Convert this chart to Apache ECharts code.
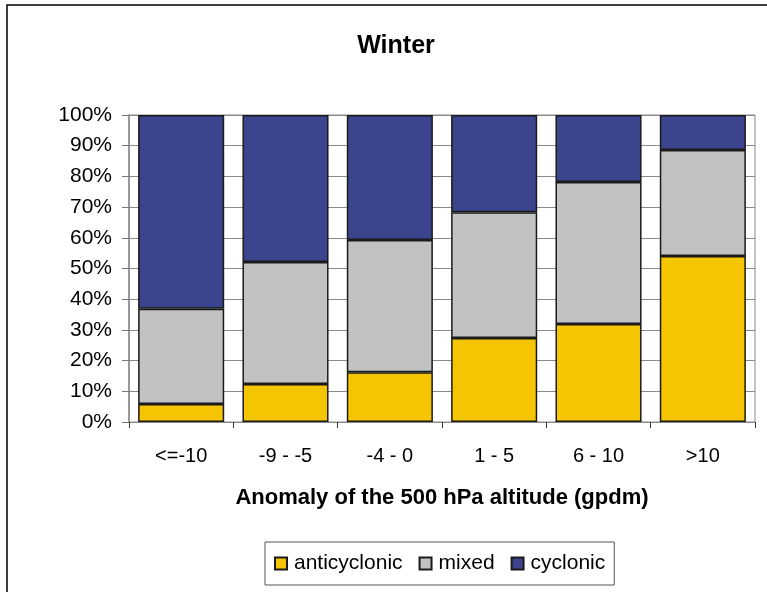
<!DOCTYPE html>
<html>
<head>
<meta charset="utf-8">
<script src="https://cdn.jsdelivr.net/npm/echarts@6/dist/echarts.min.js"></script>
<style>html,body{margin:0;padding:0;background:#fff}#c{width:767px;height:592px}</style>
</head>
<body>
<div id="c"></div>
<script>
const categories = ['<=-10', '-9 - -5', '-4 - 0', '1 - 5', '6 - 10', '>10'];
const anticyclonic = [5.9, 12.4, 16.2, 27.4, 31.9, 54.1];
const mixed = [31.0, 39.7, 43.1, 40.9, 46.3, 34.5];
const cyclonic = [63.1, 47.9, 40.7, 31.7, 21.8, 11.4];
const seriesNames = ['anticyclonic', 'mixed', 'cyclonic'];
const titleText = 'Winter';
const xAxisName = 'Anomaly of the 500 hPa altitude (gpdm)';

const FONT = '"Liberation Sans", Arial, sans-serif';
const colors = ['#F4C500', '#C1C2C4', '#3B448C'];
const dataList = [anticyclonic, mixed, cyclonic];

const chart = echarts.init(document.getElementById('c'), null, {renderer: 'canvas'});
chart.setOption({
  animation: false,
  backgroundColor: '#fff',
  textStyle: {fontFamily: FONT},
  title: {
    text: titleText, left: 391, top: 29, textAlign: 'center',
    textStyle: {fontFamily: FONT, fontSize: 25, fontWeight: 'bold', color: '#000'}
  },
  graphic: [{
    type: 'rect', shape: {x: 7, y: 5, width: 900, height: 800},
    style: {fill: 'none', stroke: '#000', lineWidth: 1.5}, silent: true, z: 100
  }],
  grid: {left: 129, right: 12, top: 115, bottom: 170, show: true, borderColor: '#8a8a8a', borderWidth: 1, backgroundColor: 'transparent'},
  legend: {
    left: 265, top: 542,
    data: seriesNames,
    itemWidth: 12, itemHeight: 12, itemGap: 16,
    padding: [11, 9],
    borderColor: '#555', borderWidth: 1,
    textStyle: {fontFamily: FONT, fontSize: 21, color: '#000', padding: [0, 0, 0, 2]},
    icon: 'rect'
  },
  xAxis: {
    type: 'category', data: categories,
    name: xAxisName, nameLocation: 'middle', nameGap: 65,
    nameTextStyle: {fontFamily: FONT, fontSize: 22, fontWeight: 'bold', color: '#000'},
    axisLine: {lineStyle: {color: '#8a8a8a', width: 1}},
    axisTick: {show: true, length: 6, lineStyle: {color: '#333'}},
    axisLabel: {fontFamily: FONT, fontSize: 20, color: '#000', margin: 24, interval: 0},
    splitLine: {show: false}
  },
  yAxis: {
    type: 'value', min: 0, max: 100, interval: 10,
    axisLine: {show: true, lineStyle: {color: '#8a8a8a', width: 1.5}},
    axisTick: {show: true, length: 7, lineStyle: {color: '#777'}},
    axisLabel: {formatter: '{value}%', fontFamily: FONT, fontSize: 21, color: '#000', margin: 17},
    splitLine: {show: true, lineStyle: {color: '#8a8a8a', width: 1}}
  },
  series: seriesNames.map((n, i) => ({
    name: n, type: 'bar', stack: 'total', data: dataList[i],
    barCategoryGap: '17.5%',
    itemStyle: {color: colors[i], borderColor: '#1a1a1a', borderWidth: 1.5}
  }))
});
</script>
</body>
</html>
